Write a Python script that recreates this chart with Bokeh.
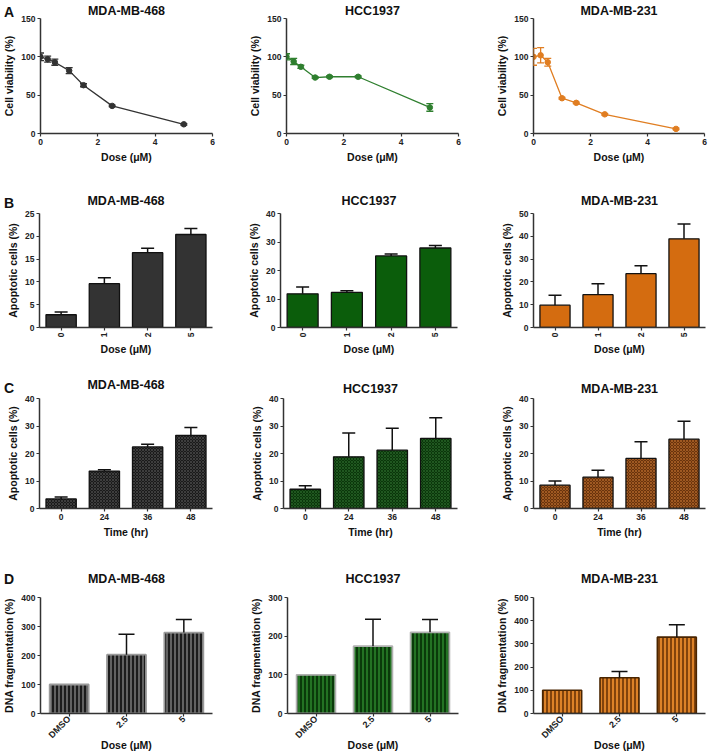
import math
from bokeh.plotting import figure
from bokeh.models import (ColumnDataSource, Whisker, TeeHead, FixedTicker, Range1d,
                          FactorRange, Div)
from bokeh.layouts import column, row
from bokeh.embed import file_html
from bokeh.resources import INLINE

FONT = "Liberation Sans"

# ---------------- data ----------------
cell_lines = ["MDA-MB-468", "HCC1937", "MDA-MB-231"]
panel_letters = ["A", "B", "C", "D"]

# A: cell viability vs dose
doses = [0, 0.25, 0.5, 1, 1.5, 2.5, 5]
via_468 = [100, 97, 93, 82, 63, 36, 12]
via_468_err = [5, 4, 4, 4, 2, 1, 1]
via_hcc = [100, 94, 87, 73, 74, 74, 34]
via_hcc_err = [4, 4, 2, 1, 1, 1, 5]
via_231 = [100, 102, 93, 46, 40, 25, 6]
via_231_err = [11, 10, 5, 1, 1, 1, 1]

# B: apoptotic cells vs dose
dose_cats = ["0", "1", "2", "5"]
apo_dose_468 = [2.8, 9.6, 16.4, 20.4]
apo_dose_468_err = [0.6, 1.3, 1.0, 1.3]
apo_dose_hcc = [11.8, 12.3, 25.1, 27.9]
apo_dose_hcc_err = [2.4, 0.6, 0.7, 0.9]
apo_dose_231 = [9.8, 14.4, 23.6, 38.9]
apo_dose_231_err = [4.3, 4.8, 3.5, 6.5]

# C: apoptotic cells vs time
time_cats = ["0", "24", "36", "48"]
apo_time_468 = [3.5, 13.6, 22.4, 26.6]
apo_time_468_err = [0.7, 0.5, 1.0, 2.9]
apo_time_hcc = [7.0, 18.8, 21.2, 25.5]
apo_time_hcc_err = [1.3, 8.7, 8.0, 7.5]
apo_time_231 = [8.5, 11.4, 18.2, 25.2]
apo_time_231_err = [1.5, 2.5, 6.1, 6.5]

# D: DNA fragmentation
frag_cats = ["DMSO", "2.5", "5"]
frag_468 = [100, 203, 279]
frag_468_err = [0, 70, 45]
frag_hcc = [100, 174, 210]
frag_hcc_err = [0, 70, 33]
frag_231 = [100, 154, 329]
frag_231_err = [0, 27, 54]

# ---------------- helpers ----------------
COLW = 236


def make_fig(title, h, left, right, top, bottom, x_range, ymax, yticks, title_standoff):
    p = figure(width=COLW, height=h, x_range=x_range, y_range=Range1d(0, ymax),
               title=title, toolbar_location=None, output_backend="svg",
               min_border_left=left, min_border_right=right,
               min_border_top=top, min_border_bottom=bottom)
    p.outline_line_color = None
    p.xgrid.visible = False
    p.ygrid.visible = False
    p.background_fill_color = "white"
    p.border_fill_color = "white"
    p.title.text_font = FONT
    p.title.text_font_size = "12.5px"
    p.title.text_font_style = "bold"
    p.title.text_color = "#111111"
    p.title.align = "center"
    p.title.standoff = title_standoff
    for ax in (p.xaxis[0], p.yaxis[0]):
        ax.axis_line_color = "#333333"
        ax.axis_line_width = 1.5
        ax.major_tick_line_color = "#333333"
        ax.major_tick_line_width = 1.2
        ax.major_tick_out = 3
        ax.major_tick_in = 0
        ax.minor_tick_line_color = None
        ax.major_label_text_font = FONT
        ax.major_label_text_font_style = "bold"
        ax.major_label_text_font_size = "8.5px"
        ax.major_label_text_color = "#222222"
        ax.major_label_standoff = 2
        ax.axis_label_text_font = FONT
        ax.axis_label_text_font_style = "bold"
        ax.axis_label_text_font_size = "10.5px"
        ax.axis_label_text_color = "#111111"
        ax.axis_label_standoff = 3
    p.yaxis.ticker = FixedTicker(ticks=yticks)
    return p


def line_panel(title, color, vals, errs, left, right):
    p = make_fig(title, 178, left, right, 18, 45, Range1d(0, 6), 150,
                 [0, 50, 100, 150], 2)
    lo = [v - e for v, e in zip(vals, errs)]
    hi = [v + e for v, e in zip(vals, errs)]
    src = ColumnDataSource(dict(x=doses, y=vals, lo=lo, hi=hi))
    p.line("x", "y", source=src, line_color=color, line_width=1.3)
    p.add_layout(Whisker(base="x", lower="lo", upper="hi", source=src,
                         line_color=color, line_width=1.3, level="overlay",
                         upper_head=TeeHead(size=7, line_color=color, line_width=1.3),
                         lower_head=TeeHead(size=7, line_color=color, line_width=1.3)))
    p.scatter("x", "y", source=src, size=5.5, fill_color=color, line_color=color)
    p.xaxis.ticker = FixedTicker(ticks=[0, 2, 4, 6])
    p.xaxis.axis_label = "Dose (μM)"
    p.yaxis.axis_label = "Cell viability (%)"
    return p


def bar_panel(title, cats, vals, errs, h, left, right, top, bottom, ymax, yticks,
              tstand, xlabel, ylabel, fill, outline, owidth, bwidth, cap,
              orient, lsize="8.5px", **hatch):
    p = make_fig(title, h, left, right, top, bottom, FactorRange(*cats), ymax,
                 yticks, tstand)
    src = ColumnDataSource(dict(x=cats, top=vals))
    p.vbar(x="x", top="top", width=bwidth, source=src, fill_color=fill,
           line_color=outline, line_width=owidth, **hatch)
    ec = [c for c, e in zip(cats, errs) if e > 0]
    elo = [v for v, e in zip(vals, errs) if e > 0]
    ehi = [v + e for v, e in zip(vals, errs) if e > 0]
    esrc = ColumnDataSource(dict(x=ec, lo=elo, hi=ehi))
    p.add_layout(Whisker(base="x", lower="lo", upper="hi", source=esrc,
                         line_color="#111111", line_width=1.5, level="overlay",
                         upper_head=TeeHead(size=cap, line_color="#111111", line_width=1.5),
                         lower_head=None))
    p.xaxis.major_label_orientation = orient
    p.xaxis.major_label_text_font_size = lsize
    p.xaxis.axis_label = xlabel
    p.yaxis.axis_label = ylabel
    return p


# ---------------- row A ----------------
a1 = line_panel(cell_lines[0], "#333333", via_468, via_468_err, 40, 24)
a2 = line_panel(cell_lines[1], "#2f7f2f", via_hcc, via_hcc_err, 50, 14)
a3 = line_panel(cell_lines[2], "#e07e22", via_231, via_231_err, 61, 4)

# ---------------- row B ----------------
VERT = math.pi / 2
b_common = dict(h=180, top=35, bottom=30, tstand=11, xlabel="Dose (μM)",
                ylabel="Apoptotic cells (%)", outline="#111111", owidth=1.3,
                bwidth=0.7, cap=13, orient=VERT)
b1 = bar_panel(cell_lines[0], dose_cats, apo_dose_468, apo_dose_468_err, left=39, right=24,
               ymax=25, yticks=[0, 5, 10, 15, 20, 25], fill="#333333", **b_common)
b2 = bar_panel(cell_lines[1], dose_cats, apo_dose_hcc, apo_dose_hcc_err, left=44, right=15,
               ymax=40, yticks=[0, 10, 20, 30, 40], fill="#0b5d0b", **b_common)
b3 = bar_panel(cell_lines[2], dose_cats, apo_dose_231, apo_dose_231_err, left=61, right=3,
               ymax=50, yticks=[0, 10, 20, 30, 40, 50], fill="#d46c10", **b_common)

# ---------------- row C ----------------
c_common = dict(h=187, xlabel="Time (hr)", ylabel="Apoptotic cells (%)",
                outline="#111111", owidth=1.3, bwidth=0.7, cap=13, orient="horizontal",
                ymax=40, yticks=[0, 10, 20, 30, 40],
                hatch_pattern="diagonal_cross", hatch_scale=3, hatch_weight=0.6)
c1 = bar_panel(cell_lines[0], time_cats, apo_time_468, apo_time_468_err, left=39, right=24,
               top=36, bottom=37, tstand=14, fill="#1a1a1a", hatch_color="#555555",
               **c_common)
c2 = bar_panel(cell_lines[1], time_cats, apo_time_hcc, apo_time_hcc_err, left=47, right=15,
               top=40, bottom=32, tstand=6, fill="#0a360a", hatch_color="#2f6f2f",
               **c_common)
c3 = bar_panel(cell_lines[2], time_cats, apo_time_231, apo_time_231_err, left=61, right=3,
               top=40, bottom=32, tstand=6, fill="#6a330c", hatch_color="#c27430",
               **c_common)

# ---------------- row D ----------------
d_common = dict(h=208, top=52, bottom=40, tstand=24, xlabel="Dose (μM)",
                ylabel="DNA fragmentation (%)", bwidth=0.68, cap=16,
                orient=math.pi / 4, lsize="9px", hatch_pattern="vertical_line",
                hatch_scale=4, hatch_weight=1.4)
d1 = bar_panel(cell_lines[0], frag_cats, frag_468, frag_468_err, left=40, right=24,
               ymax=400, yticks=[0, 100, 200, 300, 400], fill="#1c1c1c",
               hatch_color="#808080", outline="#9a9a9a", owidth=1.8, **d_common)
d2 = bar_panel(cell_lines[1], frag_cats, frag_hcc, frag_hcc_err, left=51, right=14,
               ymax=300, yticks=[0, 100, 200, 300], fill="#0a3a0a",
               hatch_color="#2d8a2d", outline="#b0b0b0", owidth=1.8, **d_common)
d3 = bar_panel(cell_lines[2], frag_cats, frag_231, frag_231_err, left=61, right=3,
               ymax=500, yticks=[0, 100, 200, 300, 400, 500], fill="#dd8228",
               hatch_color="#5a2800", outline="#4a2500", owidth=1.6, **d_common)

for f in (d1, d2, d3):
    f.xaxis.major_label_standoff = 1
    f.xaxis.axis_label_standoff = -8

# ---------------- panel letters (absolutely positioned) ----------------
letter_tops = [0, 191, 376, 567]
letters = []
for t, txt in zip(letter_tops, panel_letters):
    letters.append(Div(text=txt, width=14, height=16,
                       styles={"position": "absolute", "left": "-1px", "top": f"{t}px",
                               "font-family": FONT, "font-weight": "bold",
                               "font-size": "14px", "line-height": "14px",
                               "color": "#111111", "z-index": "10"}))

layout = column(*letters, row(a1, a2, a3), row(b1, b2, b3), row(c1, c2, c3),
                row(d1, d2, d3))

html = file_html(layout, INLINE, title="Figure")
with open("out.html", "w") as f:
    f.write(html)
